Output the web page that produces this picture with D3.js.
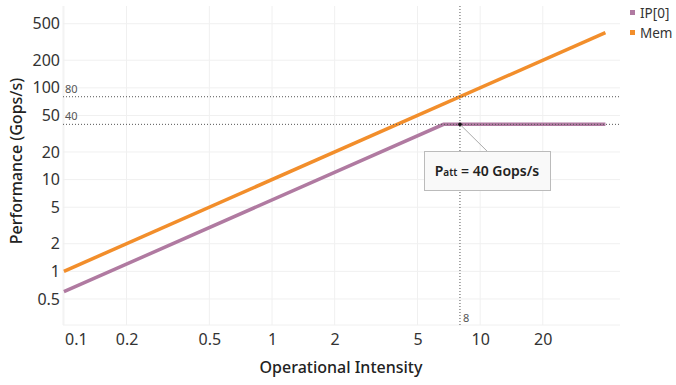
<!DOCTYPE html>
<html><head><meta charset="utf-8">
<script src="https://cdn.jsdelivr.net/npm/d3@7"></script>
<style>
body{margin:0;background:#fff;}
text{font-family:"Noto Sans",Lato,sans-serif;}
</style></head>
<body><svg id="c" width="676" height="385"></svg>
<script>
// Data
const seriesNames = ["IP[0]", "Mem"];
const seriesColors = ["#b07aa1", "#f28e2b"];
const ipIntensity = [0.1, 6.67, 40];
const ipPerf = [0.6, 40, 40];
const memIntensity = [0.1, 40];
const memPerf = [1, 400];
const xTicks = [0.1, 0.2, 0.5, 1, 2, 5, 10, 20];
const yTicks = [0.5, 1, 2, 5, 10, 20, 50, 100, 200, 500];
const refPerf = [80, 40];
const refIntensity = [8];
const attPoint = {x: 8, y: 40, label: "40 Gops/s"};

const svg = d3.select("#c");
const x = d3.scaleLog().domain([0.099, 47]).range([63, 620]);
const y = d3.scaleLog().domain([0.26, 780]).range([325, 6]);

// grid
const g = svg.append("g");
g.selectAll(".vg").data(xTicks).enter().append("line")
  .attr("x1", d => x(d)).attr("x2", d => x(d)).attr("y1", 6).attr("y2", 325)
  .attr("stroke", "#f0f0f0").attr("stroke-width", 1);
g.selectAll(".hg").data(yTicks).enter().append("line")
  .attr("x1", 63).attr("x2", 620).attr("y1", d => y(d)).attr("y2", d => y(d))
  .attr("stroke", "#f0f0f0").attr("stroke-width", 1);
g.append("line").attr("x1", 63).attr("x2", 63).attr("y1", 6).attr("y2", 325).attr("stroke", "#f0f0f0");
g.append("line").attr("x1", 63).attr("x2", 620).attr("y1", 325).attr("y2", 325).attr("stroke", "#f0f0f0");

// axes
const xAxis = d3.axisBottom(x).tickValues(xTicks).tickFormat(d3.format("~g")).tickSize(0).tickPadding(0);
const xa = svg.append("g").attr("transform", "translate(0,334)").call(xAxis);
xa.select(".domain").remove();
xa.selectAll("text").attr("font-size", 16).attr("fill", "#333").attr("dy", "0.71em")
  .attr("dx", (d, i) => i === 0 ? 12 : 0);
const yAxis = d3.axisLeft(y).tickValues(yTicks).tickFormat(d3.format("~g")).tickSize(0).tickPadding(0);
const ya = svg.append("g").attr("transform", "translate(60,0)").call(yAxis);
ya.select(".domain").remove();
ya.selectAll("text").attr("font-size", 16).attr("fill", "#333");

svg.append("text").attr("x", 341).attr("y", 373).attr("text-anchor", "middle")
  .attr("font-size", 16).attr("font-weight", 500).attr("fill", "#222").text("Operational Intensity");
svg.append("text").attr("transform", "translate(22,161) rotate(-90)").attr("text-anchor", "middle")
  .attr("font-size", 16).attr("font-weight", 500).attr("fill", "#222").text("Performance (Gops/s)");

// lines
const line = d3.line().x(d => x(d[0])).y(d => y(d[1]));
svg.append("path").datum(ipIntensity.map((v, i) => [v, ipPerf[i]]))
  .attr("d", line).attr("fill", "none").attr("stroke", seriesColors[0]).attr("stroke-width", 3.5);
svg.append("path").datum(memIntensity.map((v, i) => [v, memPerf[i]]))
  .attr("d", line).attr("fill", "none").attr("stroke", seriesColors[1]).attr("stroke-width", 3.5);

// reference lines
refPerf.forEach(v => {
  svg.append("line").attr("x1", 63).attr("x2", 620).attr("y1", y(v)).attr("y2", y(v))
    .attr("stroke", "#555").attr("stroke-width", 1).attr("stroke-dasharray", "1,2");
  svg.append("text").attr("x", 65).attr("y", y(v) - 4).attr("font-size", 11).attr("fill", "#555").text(v);
});
refIntensity.forEach(v => {
  svg.append("line").attr("x1", x(v)).attr("x2", x(v)).attr("y1", 6).attr("y2", 325)
    .attr("stroke", "#555").attr("stroke-width", 1).attr("stroke-dasharray", "1,2");
  svg.append("text").attr("x", x(v) + 3).attr("y", 322).attr("font-size", 11).attr("fill", "#555").text(v);
});

// annotation
const px = x(attPoint.x), py = y(attPoint.y);
svg.append("line").attr("x1", px).attr("y1", py).attr("x2", px + 27).attr("y2", 151)
  .attr("stroke", "#aaa").attr("stroke-width", 1);
svg.append("circle").attr("cx", px).attr("cy", py).attr("r", 1.8).attr("fill", "#111");
svg.append("rect").attr("x", 424.5).attr("y", 151.5).attr("width", 126).attr("height", 39)
  .attr("fill", "#f9f9f9").attr("stroke", "#bbb").attr("stroke-width", 1);
const at = svg.append("text").attr("x", 487).attr("y", 176).attr("text-anchor", "middle")
  .attr("font-size", 14).attr("font-weight", 600).attr("fill", "#222");
at.append("tspan").text("P");
at.append("tspan").attr("font-size", 10).text("att");
at.append("tspan").text(" = " + attPoint.label);

// legend
const lg = svg.append("g");
seriesNames.forEach((n, i) => {
  lg.append("rect").attr("x", 630).attr("y", 10 + i * 20).attr("width", 5).attr("height", 5).attr("fill", seriesColors[i]);
  lg.append("text").attr("x", 640).attr("y", 18 + i * 20).attr("font-size", 13.5).attr("fill", "#333").text(n);
});
</script></body></html>
